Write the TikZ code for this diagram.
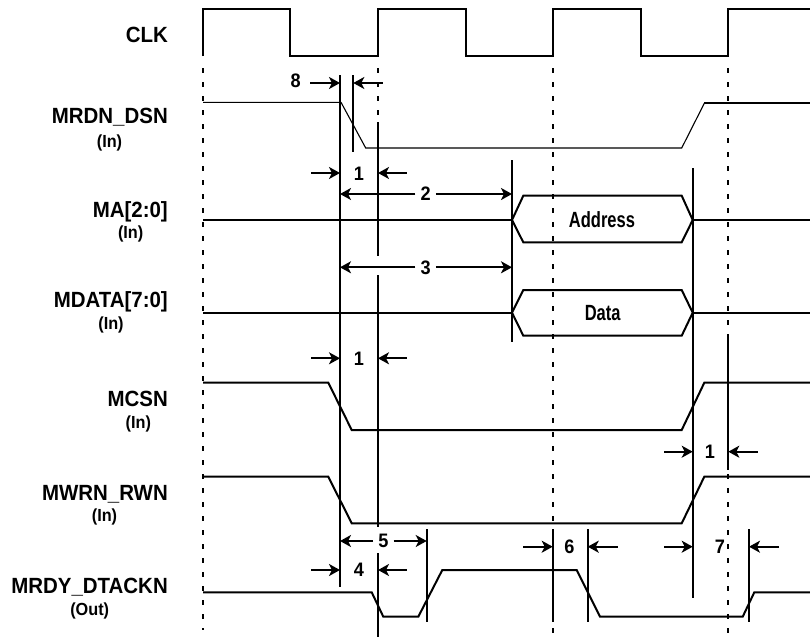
\documentclass[tikz,border=0pt]{standalone}
\usepackage{fontspec}
\setmainfont[FakeStretch=0.93]{Liberation Sans}
\newfontfamily\narrowfont[FakeStretch=0.75]{Liberation Sans}
\usetikzlibrary{arrows.meta,calc}
\tikzset{
  clk/.style={line width=2.4pt},
  sig/.style={line width=2pt},
  thinsig/.style={line width=1.1pt},
  gridline/.style={line width=1.2pt, dash pattern=on 5pt off 9pt},
  vline/.style={line width=2pt},
  arr/.style={line width=2pt, -{Stealth[length=11pt,width=12pt,inset=3pt]}},
  lbl/.style={font=\fontsize{22}{24}\selectfont\bfseries, inner sep=0pt, anchor=base east},
  sub/.style={font=\fontsize{17.5}{19}\selectfont\bfseries, inner sep=0pt, anchor=base},
  num/.style={font=\fontsize{19.5}{21}\selectfont\bfseries, inner ysep=0pt, inner xsep=5pt},
  bus/.style={font=\narrowfont\fontsize{22}{24}\selectfont\bfseries, inner sep=0pt},
}
\begin{document}
\begin{tikzpicture}[x=1pt,y=-1pt]
\useasboundingbox (0,0) rectangle (810,637);

% clock edge reference lines
\foreach \x/\a/\b in {203/68/630, 553/68/634, 728/68/634}
  \draw[gridline] (\x,\a) -- (\x,\b);
\draw[gridline] (378,68) -- (378,123);

% clock
\draw[clk] (203,56) -- (203,9) -- (290,9) -- (290,56) -- (378,56) -- (378,9) -- (466,9)
  -- (466,56) -- (553,56) -- (553,9) -- (641,9) -- (641,56) -- (728,56) -- (728,9) -- (810,9);

% signal names
\node[lbl] (lclk) at (168,42) {CLK};
\node[lbl] (lrd) at (168,123.3) {MRDN\_DSN};
\node[sub] (srd) at (109.5,147.3) {(In)};
\node[lbl] (lma) at (168,217.7) {MA[2:0]};
\node[sub] (sma) at (130.7,238.7) {(In)};
\node[lbl] (lmd) at (168,307.7) {MDATA[7:0]};
\node[sub] (smd) at (111,329.7) {(In)};
\node[lbl] (lcs) at (168,406) {MCSN};
\node[sub] (scs) at (138.3,428) {(In)};
\node[lbl] (lwr) at (168,500) {MWRN\_RWN};
\node[sub] (swr) at (104.5,521) {(In)};
\node[lbl] (lrdy) at (168,593.3) {MRDY\_DTACKN};
\node[sub] (srdy) at (89.7,615.3) {(Out)};

% waveforms
\draw[thinsig] (203,102.3) -- (341,102.3) -- (365.7,148) -- (681.7,148) -- (704.3,103.3);
\draw[sig] (704.3,103.3) -- (810,103.3);

\draw[sig] (203,220) -- (512,220);
\draw[sig] (512,220) -- (523.3,195.7) -- (681.7,195.7) -- (692.7,220) -- (681.7,242.3) -- (523.3,242.3) -- cycle;
\draw[sig] (692.7,220) -- (810,220);
\node[bus] (addr) at (602,220) {Address};

\draw[sig] (203,312.7) -- (512,312.7);
\draw[sig] (512,312.7) -- (523.3,290) -- (681.7,290) -- (692.7,312.7) -- (681.7,335.7) -- (523.3,335.7) -- cycle;
\draw[sig] (692.7,312.7) -- (810,312.7);
\node[bus] (data) at (602.7,312.7) {Data};

\draw[sig] (203,382.7) -- (328.3,382.7) -- (351.7,430) -- (681.7,430) -- (704.3,382.7) -- (810,382.7);
\draw[sig] (203,476.7) -- (328.3,476.7) -- (351.7,523.3) -- (681.7,523.3) -- (704.3,476.7) -- (810,476.7);
\draw[sig] (203,592.3) -- (371.7,592.3) -- (383.3,616.7) -- (418.3,616.7) -- (442.3,570) -- (576.7,570)
  -- (600,616.7) -- (742.7,616.7) -- (754.3,592.3) -- (810,592.3);

% timing reference lines
\coordinate (vAt) at (340,75);    \coordinate (vAb) at (340,587);
\coordinate (vBt) at (353.3,75);  \coordinate (vBb) at (353.3,151.7);
\coordinate (vC1t) at (378,122);  \coordinate (vC1b) at (378,256);
\coordinate (vC2t) at (378,275);  \coordinate (vC2b) at (378,527);
\coordinate (vC3t) at (378,553);  \coordinate (vC3b) at (378,637);
\coordinate (vDt) at (512,160);   \coordinate (vDb) at (512,341.7);
\coordinate (vEt) at (692.7,168); \coordinate (vEb) at (692.7,597.7);
\coordinate (vFt) at (728.3,338.3); \coordinate (vFb) at (728.3,470);
\coordinate (vGt) at (426.7,529.3); \coordinate (vGb) at (426.7,622.3);
\coordinate (vHt) at (552.7,529.3); \coordinate (vHb) at (552.7,622.3);
\coordinate (vIt) at (587.7,529.3); \coordinate (vIb) at (587.7,622.3);
\coordinate (vJt) at (749,529.3); \coordinate (vJb) at (749,622.3);
\foreach \v in {A,B,C1,C2,C3,E,F,G,H,I,J}
  \draw[vline] (v\v t) -- (v\v b);
\draw[line width=1.5pt] (vDt) -- (vDb);

% timing parameters
\node[num] (n8) at (295.7,81) {8};
\coordinate (t8a) at (310,83);   \draw[arr] (t8a) -- (vAt |- t8a);
\coordinate (t8b) at (382.7,83); \draw[arr] (t8b) -- (vBt |- t8b);

\node[num] (n1a) at (359,173.5) {1};
\coordinate (t1aa) at (311,173);   \draw[arr] (t1aa) -- (vAt |- t1aa);
\coordinate (t1ab) at (406.7,173); \draw[arr] (t1ab) -- (vC1t |- t1ab);

\node[num] (n2) at (425.7,194) {2};
\draw[arr] (n2.west) -- (vAt |- n2.west);
\draw[arr] (n2.east) -- (vDt |- n2.east);

\node[num] (n3) at (425.7,267.3) {3};
\draw[arr] (n3.west) -- (vAt |- n3.west);
\draw[arr] (n3.east) -- (vDt |- n3.east);

\node[num] (n1b) at (359,358.3) {1};
\coordinate (t1ba) at (311,358.3);   \draw[arr] (t1ba) -- (vAt |- t1ba);
\coordinate (t1bb) at (406.7,358.3); \draw[arr] (t1bb) -- (vC2t |- t1bb);

\node[num] (n1c) at (710,451.7) {1};
\coordinate (t1ca) at (664,451.7);   \draw[arr] (t1ca) -- (vEt |- t1ca);
\coordinate (t1cb) at (757.7,451.7); \draw[arr] (t1cb) -- (vFt |- t1cb);

\node[num] (n5) at (383.3,541) {5};
\draw[arr] (n5.west) -- (vAt |- n5.west);
\draw[arr] (n5.east) -- (vGt |- n5.east);

\node[num] (n4) at (359,570) {4};
\coordinate (t4a) at (311,570);   \draw[arr] (t4a) -- (vAt |- t4a);
\coordinate (t4b) at (406.7,570); \draw[arr] (t4b) -- (vC3t |- t4b);

\node[num] (n6) at (569.3,546.7) {6};
\coordinate (t6a) at (523.3,546.7); \draw[arr] (t6a) -- (vHt |- t6a);
\coordinate (t6b) at (617.7,546.7); \draw[arr] (t6b) -- (vIt |- t6b);

\node[num] (n7) at (720,546.7) {7};
\coordinate (t7a) at (664,546.7); \draw[arr] (t7a) -- (vEt |- t7a);
\coordinate (t7b) at (779,546.7); \draw[arr] (t7b) -- (vJt |- t7b);
\end{tikzpicture}
\end{document}
